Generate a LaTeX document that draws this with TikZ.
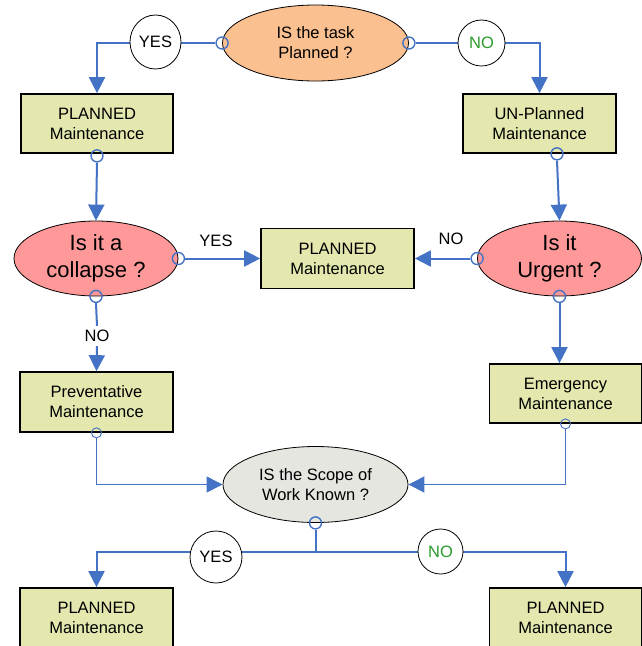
\documentclass[tikz,border=0pt]{standalone}
\usepackage{fontspec}
\setmainfont{Liberation Sans}
\usetikzlibrary{arrows.meta,shapes.geometric}
\definecolor{boxfill}{HTML}{E4E8AF}
\definecolor{peach}{HTML}{FAC090}
\definecolor{pinkq}{HTML}{FF9999}
\definecolor{grayq}{HTML}{E6E6E0}
\definecolor{lineblue}{HTML}{4472C4}
\definecolor{nogreen}{HTML}{2A9A2A}
\tikzset{
  txt/.style={font=\fontsize{16.5}{20}\selectfont, align=center},
  bigtxt/.style={font=\fontsize{22}{27}\selectfont, align=center},
  mbox/.style={txt, rectangle, draw=black, line width=1.7pt, fill=boxfill, inner sep=0pt},
  qell/.style={ellipse, draw=black, line width=0.8pt, inner sep=0pt},
  lab/.style={txt, ellipse, draw=black, line width=0.8pt, fill=white, inner sep=0pt},
  dot/.style={circle, draw=lineblue, line width=1.4pt, inner sep=0pt, minimum size=12pt},
  smalldot/.style={circle, draw=lineblue, line width=0.9pt, inner sep=0pt, minimum size=10pt},
  conn/.style={draw=lineblue, line width=2pt, -{Triangle[length=16pt,width=16pt]}},
  plain/.style={draw=lineblue, line width=2pt},
  thinconn/.style={draw=lineblue, line width=1pt, -{Triangle[length=16pt,width=16pt]}},
}
\begin{document}
\begin{tikzpicture}[x=1pt,y=-1pt]
\useasboundingbox (0,0) rectangle (642,646);
% decision nodes
\node[qell, txt, fill=peach, minimum width=186pt, minimum height=76pt] (q1) at (315.5,43) {IS the task\\Planned ?};
\node[qell, bigtxt, fill=pinkq, minimum width=164pt, minimum height=75pt] (c1) at (96,258.5) {Is it a\\collapse ?};
\node[qell, bigtxt, fill=pinkq, minimum width=164pt, minimum height=75pt] (g1) at (559.5,258.5) {Is it\\Urgent ?};
\node[qell, txt, fill=grayq, minimum width=185pt, minimum height=76pt] (s1) at (315.5,484.5) {IS the Scope of\\Work Known ?};
% boxes
\node[mbox, minimum width=152pt, minimum height=59pt] (p1) at (97,123.5) {PLANNED\\Maintenance};
\node[mbox, minimum width=153pt, minimum height=59pt] (u1) at (539.5,123.5) {UN-Planned\\Maintenance};
\node[mbox, minimum width=153pt, minimum height=60pt] (m1) at (337.5,258.5) {PLANNED\\Maintenance};
\node[mbox, minimum width=153pt, minimum height=60pt] (pv) at (96.5,402) {Preventative\\Maintenance};
\node[mbox, minimum width=152pt, minimum height=59pt] (em) at (565.5,393.5) {Emergency\\Maintenance};
\node[mbox, minimum width=153pt, minimum height=59pt] (b1) at (96.5,617.5) {PLANNED\\Maintenance};
\node[mbox, minimum width=152pt, minimum height=59pt] (b2) at (565.5,617.5) {PLANNED\\Maintenance};
% connector end circles
\node[dot] (dq1w) at (q1.west) {};
\node[dot] (dq1e) at (q1.east) {};
\node[dot] (dp1) at ([yshift=-2pt]p1.south) {};
\node[dot] (du1) at ([xshift=17.5pt]u1.south) {};
\node[dot] (dc1e) at (c1.east) {};
\node[dot] (dc1s) at (c1.south) {};
\node[dot] (dg1w) at (g1.west) {};
\node[dot] (dg1s) at (g1.south) {};
\node[smalldot] (dpv) at (pv.south) {};
\node[smalldot] (dem) at (em.south) {};
\node[dot] (ds1) at (s1.south) {};
\coordinate (split) at (315.5,552);
% plain labels
\node[txt, inner sep=4pt] (no3) at (97,336) {NO};
\node[txt] (yes2) at (216,241) {YES};
\node[txt] (no2) at (451,239) {NO};
% connectors
\draw[conn] (dq1w.west) -| (p1.north);
\draw[conn] (dq1e.east) -| (u1.north);
\draw[conn] (dp1.south) -- (c1.north);
\draw[conn] (du1.south) -- (g1.north);
\draw[conn] (dc1e.east) -- (m1.west);
\draw[conn] (dg1w.west) -- (m1.east);
\draw[plain] (dc1s.south) -- (no3.north);
\draw[conn] (no3.south) -- (pv.north);
\draw[conn] (dg1s.south) -- (dg1s.south |- em.north);
\draw[thinconn] (dpv.south) |- (s1.west);
\draw[thinconn] (dem.south) |- (s1.east);
\draw[plain] (ds1.south) -- (split);
\draw[conn] (split) -| (b1.north);
\draw[conn] (split) -| (b2.north);
% YES / NO circles
\node[lab, minimum width=51pt, minimum height=54pt] (yes1) at (155.5,42) {YES};
\node[lab, text=nogreen, minimum width=47pt, minimum height=46pt] (no1) at (481.5,43) {NO};
\node[lab, minimum width=52pt, minimum height=52pt] (yes3) at (216,557) {YES};
\node[lab, text=nogreen, minimum width=45pt, minimum height=45pt] (no4) at (440.5,551.5) {NO};
\end{tikzpicture}
\end{document}
